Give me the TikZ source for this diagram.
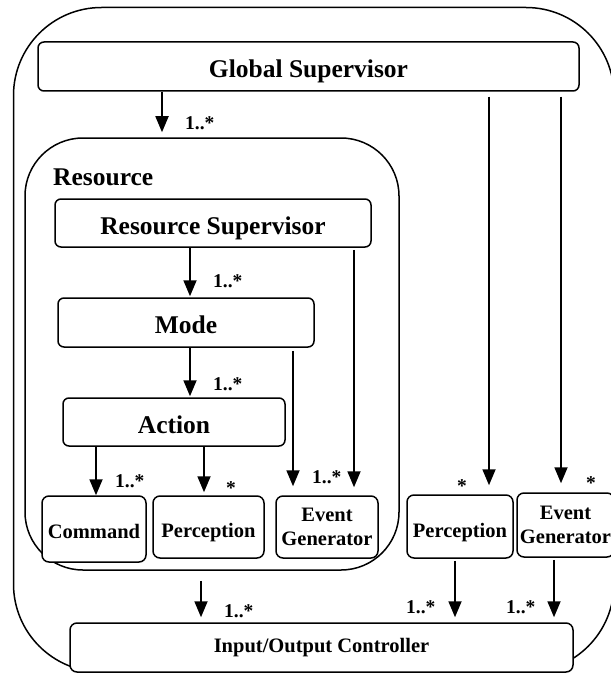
\documentclass[tikz,border=0pt]{standalone}
\usepackage{fontspec}
\setmainfont{Liberation Serif}
\usetikzlibrary{arrows.meta}
\begin{document}
\begin{tikzpicture}[x=1pt,y=-1pt,
  container/.style={draw, line width=1.5pt, inner sep=0pt},
  bigbox/.style={draw, line width=1.5pt, rounded corners=6pt, fill=white, inner sep=0pt,
    font=\bfseries\fontsize{25.5}{28}\selectfont, text height=23pt, text depth=0pt},
  smallbox/.style={draw, line width=1.5pt, rounded corners=7pt, fill=white, inner sep=0pt,
    font=\bfseries\fontsize{20.5}{24}\selectfont, align=center},
  mult/.style={inner sep=0pt, anchor=base west, font=\bfseries\fontsize{19.5}{22}\selectfont},
  star/.style={inner sep=0pt, anchor=base, font=\bfseries\fontsize{19.5}{22}\selectfont},
  arr/.style={line width=1.8pt, -{Triangle[width=13pt,length=16pt]}}]
\useasboundingbox (0,0) rectangle (610,674);

% containers
\node[container, rounded corners=88pt, minimum width=600.5pt, minimum height=664.5pt] (outer) at (313.75,339.75) {};
\node[container, rounded corners=58pt, minimum width=374pt, minimum height=432pt] (res) at (212,354) {};
\node[inner sep=0pt, anchor=base west, font=\bfseries\fontsize{25.5}{28}\selectfont] (reslabel) at (53,185) {Resource};

% main boxes
\node[bigbox, minimum width=541pt, minimum height=49pt] (gs) at (308.5,66.5) {Global Supervisor};
\node[bigbox, minimum width=316pt, minimum height=48pt] (rs) at (213,223) {Resource Supervisor};
\node[bigbox, minimum width=256pt, minimum height=49pt, text height=21pt] (mode) at (186,322.5) {Mode};
\node[bigbox, minimum width=222pt, minimum height=48pt, text height=22pt] (action) at (174,422) {Action};

% small boxes
\node[smallbox, minimum width=104pt, minimum height=66pt, text height=18pt, text depth=0pt] (cmd) at (94,529) {Command};
\node[smallbox, minimum width=111pt, minimum height=62pt, text height=20pt, text depth=0pt] (perci) at (208.5,527) {Perception};
\node[smallbox, minimum width=102pt, minimum height=62pt] (egi) at (327,527) {Event\\Generator};
\node[smallbox, minimum width=106pt, minimum height=63pt, text height=21pt, text depth=0pt] (perco) at (460,526.5) {Perception};
\node[smallbox, minimum width=97pt, minimum height=64pt] (ego) at (565.5,525) {Event\\Generator};
\node[smallbox, minimum width=503pt, minimum height=49pt] (io) at (321.5,647.5) {Input/Output Controller};

% x positions of connectors
\coordinate (xa) at (162,0);
\coordinate (xb) at (190,0);
\coordinate (xc) at (96,0);
\coordinate (xd) at (204,0);
\coordinate (xe) at (293,0);
\coordinate (xf) at (354,0);
\coordinate (xg) at (489,0);
\coordinate (xh) at (561,0);
\coordinate (xi) at (201,0);
\coordinate (xj) at (455,0);
\coordinate (xk) at (554,0);

% connectors
\draw[arr, shorten >=5pt] (gs.south -| xa) -- (res.north -| xa);
\draw[arr, shorten <=5pt, shorten >=9pt] (gs.south -| xg) -- (perco.north -| xg);
\draw[arr, shorten <=5pt, shorten >=9pt] (gs.south -| xh) -- (ego.north -| xh);
\draw[arr, shorten >=1pt] (rs.south -| xb) -- (mode.north -| xb);
\draw[arr, shorten >=1pt] (mode.south -| xb) -- (action.north -| xb);
\draw[arr, shorten <=2pt, shorten >=8pt] (rs.south -| xf) -- (egi.north -| xf);
\draw[arr, shorten <=3pt, shorten >=9pt] (mode.south -| xe) -- (egi.north -| xe);
\draw[arr] (action.south -| xc) -- (cmd.north -| xc);
\draw[arr, shorten >=3pt] (action.south -| xd) -- (perci.north -| xd);
\draw[arr, shorten <=10pt, shorten >=5pt] (res.south -| xi) -- (io.north -| xi);
\draw[arr, shorten <=2pt, shorten >=5pt] (perco.south -| xj) -- (io.north -| xj);
\draw[arr, shorten <=2pt, shorten >=5pt] (ego.south -| xk) -- (io.north -| xk);

% multiplicities
\node[mult] (m1) at (185,129) {1..*};
\node[mult] (m2) at (213,287) {1..*};
\node[mult] (m3) at (213,390) {1..*};
\node[mult] (m4) at (115,487) {1..*};
\node[star] (m5) at (231,494) {*};
\node[mult] (m6) at (312,483) {1..*};
\node[star] (m7) at (462,492) {*};
\node[star] (m8) at (591,489) {*};
\node[mult] (m9) at (224,617) {1..*};
\node[mult] (m10) at (406,613) {1..*};
\node[mult] (m11) at (506,613) {1..*};
\end{tikzpicture}
\end{document}
